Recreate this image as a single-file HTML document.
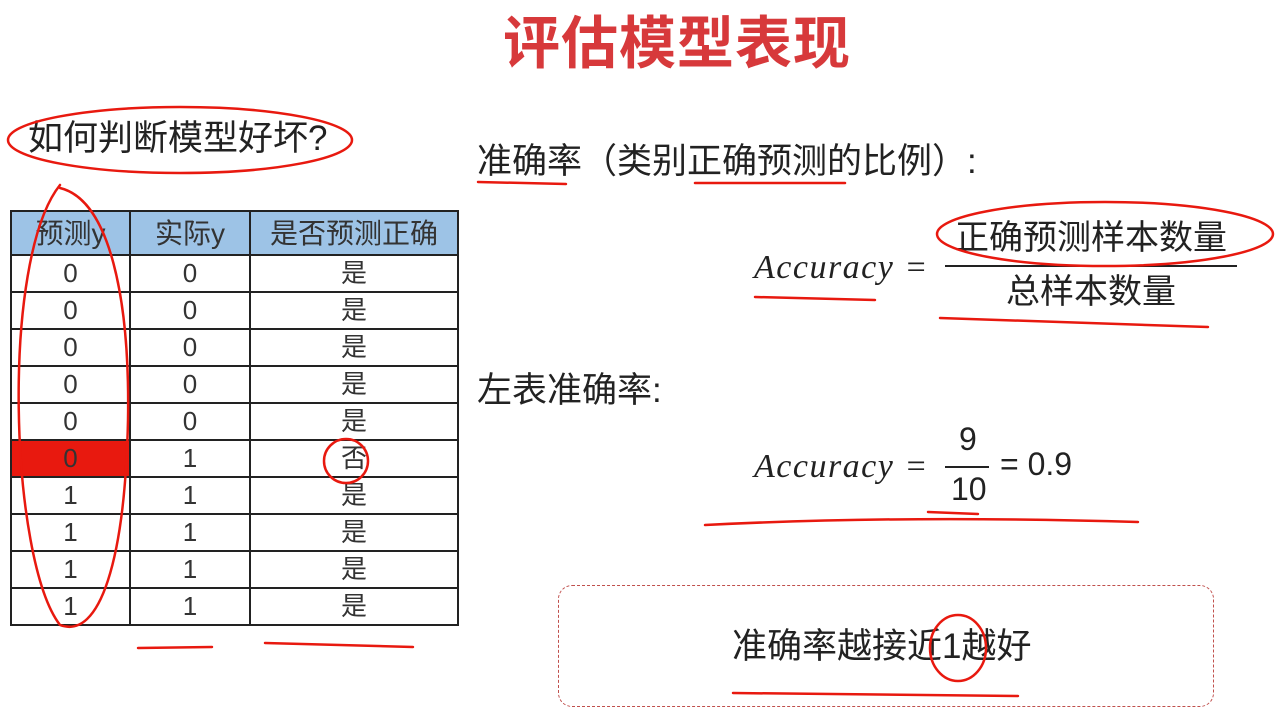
<!DOCTYPE html>
<html><head><meta charset="utf-8"><style>
body{margin:0;width:1282px;height:719px;background:#fff;position:relative;overflow:hidden;font-family:"Liberation Sans","Noto Sans CJK SC",sans-serif;color:#222}
.a{position:absolute;white-space:nowrap;line-height:1.2}
table{position:absolute;left:10px;top:210px;border-collapse:collapse}
td{border:2px solid #222;text-align:center;font-size:26px;height:35px;padding:0;line-height:35px;color:#333}
tr.h td{background:#9dc3e6;height:42px;font-size:28px}
.m{font-family:"Liberation Serif","Noto Serif CJK SC",serif;font-style:italic;font-size:34px;letter-spacing:1.5px}
</style></head><body>
<div class="a" style="left:503px;top:10px;font-size:57px;font-weight:bold;color:#d7393b;letter-spacing:1px">评估模型表现</div>
<div class="a" style="left:28px;top:118px;font-size:35px">如何判断模型好坏?</div>
<table>
<colgroup><col style="width:119px"><col style="width:120px"><col style="width:208px"></colgroup>
<tr class="h"><td>预测y</td><td>实际y</td><td>是否预测正确</td></tr>
<tr><td>0</td><td>0</td><td>是</td></tr>
<tr><td>0</td><td>0</td><td>是</td></tr>
<tr><td>0</td><td>0</td><td>是</td></tr>
<tr><td>0</td><td>0</td><td>是</td></tr>
<tr><td>0</td><td>0</td><td>是</td></tr>
<tr><td style="background:#e8190f">0</td><td>1</td><td>否</td></tr>
<tr><td>1</td><td>1</td><td>是</td></tr>
<tr><td>1</td><td>1</td><td>是</td></tr>
<tr><td>1</td><td>1</td><td>是</td></tr>
<tr><td>1</td><td>1</td><td>是</td></tr>
</table>
<div class="a" style="left:477px;top:141px;font-size:35px">准确率（类别正确预测的比例）:</div>
<div class="a m" style="left:754px;top:248px">Accuracy =</div>
<div class="a" style="left:955px;top:218px;font-size:34px">正确预测样本数量</div>
<div class="a" style="left:945px;top:265px;width:292px;height:2px;background:#222"></div>
<div class="a" style="left:1006px;top:272px;font-size:34px">总样本数量</div>
<div class="a" style="left:477px;top:370px;font-size:35px">左表准确率:</div>
<div class="a m" style="left:754px;top:447px">Accuracy =</div>
<div class="a" style="left:959px;top:420px;font-size:32px">9</div>
<div class="a" style="left:945px;top:466px;width:44px;height:2px;background:#222"></div>
<div class="a" style="left:951px;top:470px;font-size:32px">10</div>
<div class="a" style="left:1000px;top:445px;font-size:32px">= 0.9</div>
<div class="a" style="left:558px;top:585px;width:654px;height:120px;border:1.5px dashed #c0504d;border-radius:14px"></div>
<div class="a" style="left:732px;top:626px;font-size:35px">准确率越接近1越好</div>
<svg class="a" style="left:0;top:0" width="1282" height="719" fill="none" stroke="#e8190f" stroke-width="2.5" stroke-linecap="round">
<ellipse cx="180" cy="140" rx="172" ry="33"/>
<path d="M60 185 C0 260 10 560 60 625 C100 640 125 560 128 420 C130 300 110 200 60 188"/>
<path d="M138 648 L212 647 M265 643 L413 647"/>
<ellipse cx="346" cy="461" rx="22" ry="22"/>
<path d="M478 182 L566 184 M695 183 L845 183"/>
<ellipse cx="1105" cy="234" rx="168" ry="32"/>
<path d="M755 297 L875 300 M940 318 L1208 327"/>
<path d="M705 525 Q900 515 1138 522 M928 512 L978 514"/>
<ellipse cx="958" cy="648" rx="28" ry="33"/>
<path d="M733 693 L1018 696"/>
</svg>
</body></html>
